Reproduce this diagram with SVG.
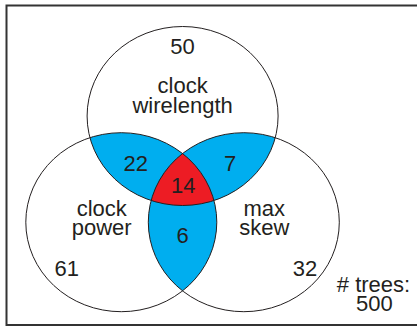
<svg xmlns="http://www.w3.org/2000/svg" width="417" height="331" viewBox="0 0 417 331">
<style>
.lbl{font-family:"Liberation Sans",Arial,sans-serif;font-size:22px;fill:#231f20;text-anchor:middle}
.outline{fill:none;stroke:#231f20;stroke-width:1}
.blue{fill:#00aeef}
.red{fill:#ed1c24}
</style>
<defs>
<clipPath id="cT"><ellipse cx="182.6" cy="116" rx="95.5" ry="89.5"/></clipPath>
<clipPath id="cL"><ellipse cx="121.3" cy="222.2" rx="95.5" ry="89.5"/></clipPath>
</defs>
<rect x="0" y="0" width="417" height="331" fill="#ffffff"/>
<rect x="6.5" y="5.5" width="420" height="319.5" fill="none" stroke="#333333" stroke-width="2"/>
<g id="overlaps">
<ellipse class="blue" cx="121.3" cy="222.2" rx="95.5" ry="89.5" clip-path="url(#cT)"/>
<ellipse class="blue" cx="243.8" cy="222.2" rx="95.5" ry="89.5" clip-path="url(#cT)"/>
<ellipse class="blue" cx="243.8" cy="222.2" rx="95.5" ry="89.5" clip-path="url(#cL)"/>
<g clip-path="url(#cT)"><ellipse class="red" cx="243.8" cy="222.2" rx="95.5" ry="89.5" clip-path="url(#cL)"/></g>
</g>
<g id="clock-wirelength">
<ellipse class="outline" cx="182.6" cy="116" rx="95.5" ry="89.5"/>
<text class="lbl" x="182.6" y="54">50</text>
<text class="lbl" x="182.6" y="93">clock</text>
<text class="lbl" x="182.6" y="112.5">wirelength</text>
</g>
<g id="clock-power">
<ellipse class="outline" cx="121.3" cy="222.2" rx="95.5" ry="89.5"/>
<text class="lbl" x="101.7" y="216">clock</text>
<text class="lbl" x="101.7" y="235">power</text>
<text class="lbl" x="66.7" y="276">61</text>
</g>
<g id="max-skew">
<ellipse class="outline" cx="243.8" cy="222.2" rx="95.5" ry="89.5"/>
<text class="lbl" x="264.3" y="216">max</text>
<text class="lbl" x="264.3" y="235">skew</text>
<text class="lbl" x="305" y="276">32</text>
</g>
<g id="counts">
<text class="lbl" x="135.7" y="171">22</text>
<text class="lbl" x="230" y="171">7</text>
<text class="lbl" x="183.3" y="192.5">14</text>
<text class="lbl" x="182.7" y="242.5">6</text>
</g>
<g id="total">
<text class="lbl" x="373.5" y="291.5"># trees:</text>
<text class="lbl" x="374.3" y="310.5">500</text>
</g>
</svg>
